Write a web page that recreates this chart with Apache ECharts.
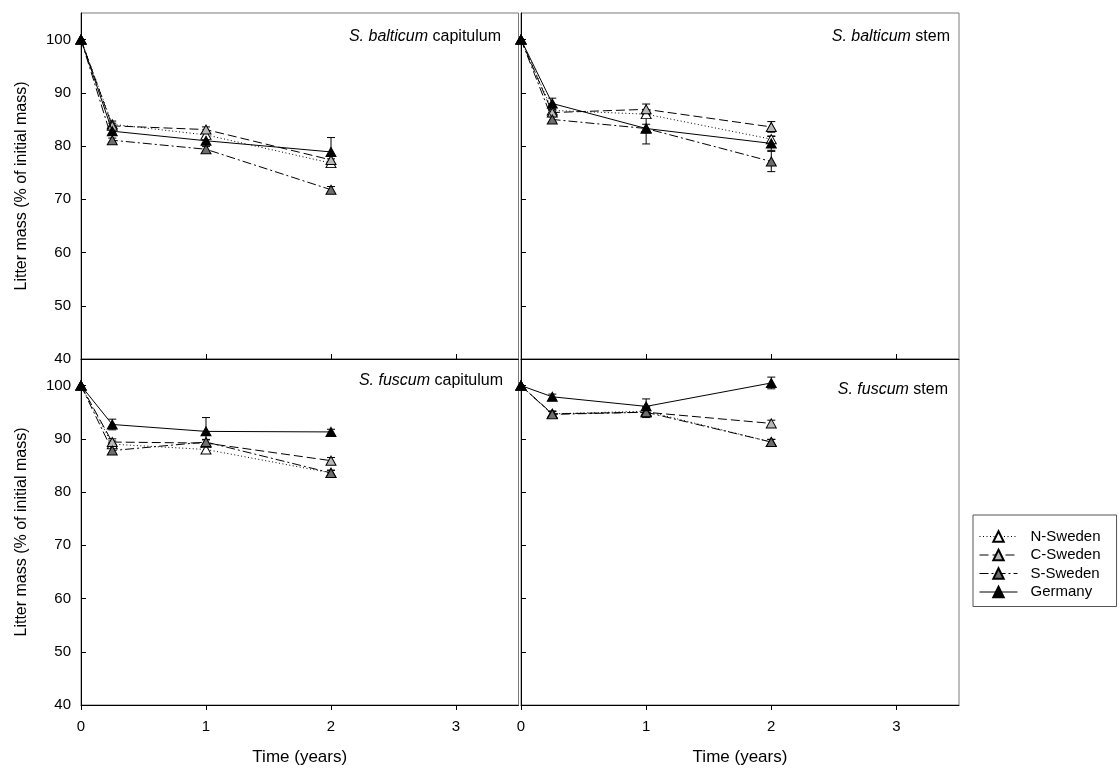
<!DOCTYPE html>
<html>
<head>
<meta charset="utf-8">
<script src="https://cdn.jsdelivr.net/npm/echarts@6/dist/echarts.min.js"></script>
<style>
  html, body { margin: 0; padding: 0; background: #fff; }
  #chart { width: 1119px; height: 776px; }
</style>
</head>
<body>
<div id="chart"></div>
<script>
// Sampling times (years)
const times = [0, 0.25, 1, 2];
const regions = ['N-Sweden', 'C-Sweden', 'S-Sweden', 'Germany'];

// Remaining litter mass (% of initial) – S. balticum capitulum
const balticumCapN = [100, 84.1, 82.1, 76.8];
const balticumCapC = [100, 83.8, 83.1, 77.4];
const balticumCapS = [100, 81.1, 79.4, 71.8];
const balticumCapG = [100, 82.8, 81.0, 78.9];
const balticumCapErrN = [0, 0.6, 0.6, 0.8];
const balticumCapErrC = [0, 0.5, 0.5, 0.8];
const balticumCapErrS = [0, 0.4, 0.5, 0.6];
const balticumCapErrG = [0, 0.8, 0.6, 2.7];

// S. balticum stem
const balticumStemN = [100, 86.7, 86.0, 81.3];
const balticumStemC = [100, 86.3, 86.9, 83.6];
const balticumStemS = [100, 85.0, 83.3, 77.1];
const balticumStemG = [100, 88.0, 83.3, 80.5];
const balticumStemErrN = [0, 0.6, 0.6, 0.6];
const balticumStemErrC = [0, 0.6, 1.0, 1.0];
const balticumStemErrS = [0, 0.5, 0.8, 1.9];
const balticumStemErrG = [0, 1.0, 2.9, 1.3];

// S. fuscum capitulum
const fuscumCapN = [100, 89.0, 88.0, 83.6];
const fuscumCapC = [100, 89.4, 89.2, 85.9];
const fuscumCapS = [100, 87.8, 89.4, 83.6];
const fuscumCapG = [100, 92.7, 91.4, 91.3];
const fuscumCapErrN = [0, 0.6, 0.6, 0.5];
const fuscumCapErrC = [0, 0.6, 0.6, 0.6];
const fuscumCapErrS = [0, 0.5, 0.5, 0.5];
const fuscumCapErrG = [0, 1.0, 2.6, 0.5];

// S. fuscum stem
const fuscumStemN = [100, 94.7, 95.2, 89.4];
const fuscumStemC = [100, 94.7, 95.0, 92.9];
const fuscumStemS = [100, 94.6, 95.0, 89.4];
const fuscumStemG = [100, 97.9, 96.1, 100.5];
const fuscumStemErrN = [0, 0.5, 0.8, 0.5];
const fuscumStemErrC = [0, 0.5, 0.6, 0.6];
const fuscumStemErrS = [0, 0.5, 1.0, 0.5];
const fuscumStemErrG = [0, 0.5, 1.4, 1.1];

// Axis tick labels
const xTicks = [0, 1, 2, 3];
const yTicks = [40, 50, 60, 70, 80, 90, 100];

// Panel titles (italic species name + plant part)
const panelSpecies = ['S. balticum', 'S. balticum', 'S. fuscum', 'S. fuscum'];
const panelPart = ['capitulum', 'stem', 'capitulum', 'stem'];

const yName = 'Litter mass (% of initial mass)';
const xName = 'Time (years)';

const FONT = 'Liberation Sans, Arial, Helvetica, sans-serif';

const panels = [
  { vals: [balticumCapN, balticumCapC, balticumCapS, balticumCapG],
    errs: [balticumCapErrN, balticumCapErrC, balticumCapErrS, balticumCapErrG] },
  { vals: [balticumStemN, balticumStemC, balticumStemS, balticumStemG],
    errs: [balticumStemErrN, balticumStemErrC, balticumStemErrS, balticumStemErrG] },
  { vals: [fuscumCapN, fuscumCapC, fuscumCapS, fuscumCapG],
    errs: [fuscumCapErrN, fuscumCapErrC, fuscumCapErrS, fuscumCapErrG] },
  { vals: [fuscumStemN, fuscumStemC, fuscumStemS, fuscumStemG],
    errs: [fuscumStemErrN, fuscumStemErrC, fuscumStemErrS, fuscumStemErrG] }
];

// Per-region marker fill and line dash pattern
const fills = ['#ffffff', '#b8b8b8', '#6e6e6e', '#000000'];
const dashes = [[1, 2.5], [9, 4], [9, 3, 2, 3], 'solid'];

const gridBoxes = [
  { left: 81, top: 13, width: 437.5, height: 346 },
  { left: 521, top: 13, width: 438, height: 346 },
  { left: 81, top: 359, width: 437.5, height: 346 },
  { left: 521, top: 359, width: 438, height: 346 }
];

const grids = gridBoxes.map(b => Object.assign({
  show: true, borderColor: '#7a7a7a', borderWidth: 1, backgroundColor: 'transparent'
}, b));

const xAxes = gridBoxes.map((b, i) => {
  const bottomRow = i >= 2;
  return {
    type: 'value', gridIndex: i, min: 0, max: 3.5, interval: 1,
    axisLine: { show: true, onZero: false, lineStyle: { color: '#000', width: 1 } },
    axisTick: { show: true, inside: !bottomRow, length: 5, customValues: xTicks,
                lineStyle: { color: '#000' } },
    axisLabel: {
      show: bottomRow, customValues: xTicks, margin: 14,
      color: '#000', fontSize: 15, fontFamily: FONT
    },
    splitLine: { show: false },
    name: bottomRow ? xName : '',
    nameLocation: 'middle', nameGap: 44,
    nameTextStyle: { color: '#000', fontSize: 17, fontFamily: FONT },
    z: 5
  };
});

const yAxes = gridBoxes.map((b, i) => {
  const leftCol = i % 2 === 0;
  return {
    type: 'value', gridIndex: i, min: 40, max: 105, interval: 10,
    axisLine: { show: true, onZero: false, lineStyle: { color: '#000', width: 1 } },
    axisTick: { show: true, inside: true, length: 5, customValues: yTicks,
                lineStyle: { color: '#000' } },
    axisLabel: {
      show: leftCol, customValues: yTicks, margin: 10,
      color: '#000', fontSize: 15, fontFamily: FONT
    },
    splitLine: { show: false },
    name: leftCol ? yName : '',
    nameLocation: 'middle', nameGap: 51,
    nameTextStyle: { color: '#000', fontSize: 16, fontFamily: FONT },
    z: 5
  };
});

// Error bars with caps, drawn behind the markers
function errorBarRenderer(params, api) {
  const x = api.value(0), y = api.value(1), e = api.value(2);
  if (!e) return null;
  const hi = api.coord([x, y + e]);
  const lo = api.coord([x, y - e]);
  const cap = 4;
  const st = { stroke: '#000', lineWidth: 1 };
  return {
    type: 'group',
    children: [
      { type: 'line', shape: { x1: hi[0], y1: hi[1], x2: lo[0], y2: lo[1] }, style: st },
      { type: 'line', shape: { x1: hi[0] - cap, y1: hi[1], x2: hi[0] + cap, y2: hi[1] }, style: st },
      { type: 'line', shape: { x1: lo[0] - cap, y1: lo[1], x2: lo[0] + cap, y2: lo[1] }, style: st }
    ]
  };
}

const series = [];
panels.forEach((p, gi) => {
  p.vals.forEach((vals, ri) => {
    series.push({
      type: 'custom', name: regions[ri] + ' SE', xAxisIndex: gi, yAxisIndex: gi,
      renderItem: errorBarRenderer, z: 3, silent: true,
      data: times.map((t, k) => [t, vals[k], p.errs[ri][k]]),
      encode: { x: 0, y: 1 }
    });
  });
  p.vals.forEach((vals, ri) => {
    series.push({
      type: 'line', name: regions[ri], xAxisIndex: gi, yAxisIndex: gi,
      data: times.map((t, k) => [t, vals[k]]),
      symbol: 'triangle', symbolSize: [10, 9], showAllSymbol: true,
      lineStyle: { color: '#000', width: 1, type: dashes[ri] },
      itemStyle: { color: fills[ri], borderColor: '#000', borderWidth: 1 },
      emphasis: { disabled: true },
      z: 4 + ri * 0.01
    });
  });
});

const titleRight = [613, 164, 611, 166];
const titleTop = [24, 24, 368, 377];
const titles = panelSpecies.map((sp, i) => ({
  text: '{i|' + sp + '} ' + panelPart[i],
  right: titleRight[i], top: titleTop[i],
  textStyle: {
    color: '#000', fontSize: 16, fontWeight: 'normal', fontFamily: FONT,
    rich: { i: { fontStyle: 'italic', fontSize: 16, color: '#000', fontFamily: FONT } }
  }
}));

const option = {
  animation: false,
  backgroundColor: '#fff',
  title: titles,
  grid: grids,
  xAxis: xAxes,
  yAxis: yAxes,
  legend: {
    data: regions,
    orient: 'vertical',
    left: 973, top: 515,
    itemWidth: 38, itemHeight: 13, itemGap: 3.5,
    padding: [14, 16, 7, 6],
    borderColor: '#555', borderWidth: 1,
    backgroundColor: '#fff',
    lineStyle: { width: 1 },
    textStyle: { color: '#000', fontSize: 15, fontFamily: FONT, padding: [0, 0, 0, 8] },
    selectedMode: false
  },
  series: series
};

const chart = echarts.init(document.getElementById('chart'), null, { renderer: 'canvas' });
chart.setOption(option);
</script>
</body>
</html>
